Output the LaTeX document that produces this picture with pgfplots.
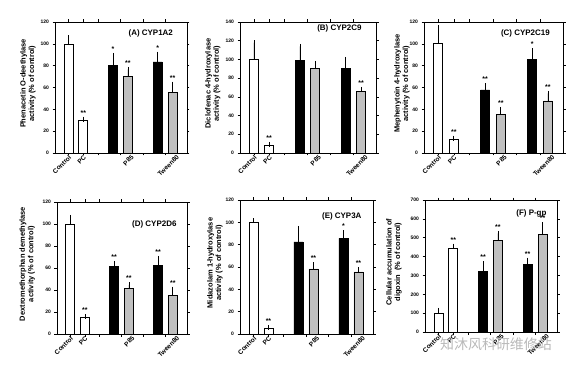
\documentclass[border=0pt]{standalone}
\usepackage{pgfplots}
\pgfplotsset{compat=1.18}
\usepackage{fontspec}
\setmainfont{Liberation Sans}
\newfontfamily\cjk{Noto Sans CJK SC}
\definecolor{bargray}{RGB}{192,192,192}
\pgfplotsset{
 panel/.style={
  scale only axis,
  axis line style={line width=0.8pt},
  xmin=0.1, xmax=8.97, ymin=0,
  tick align=outside,
  major tick length=2.5bp,
  tick style={line width=0.5pt, black},
  xtick={1,2,3,4.5,6,7.5},
  xticklabels={},
  extra x ticks={1,2,5.2,8.25},
  extra x tick labels={Control,PC,P85,Tween80},
  extra x tick style={major tick length=0pt, xticklabel style={rotate=45, anchor=north east, font=\bfseries\fontsize{6.5}{7}\selectfont, inner sep=1bp}},
  yticklabel style={font=\bfseries\fontsize{5}{6}\selectfont},
  /pgf/number format/assume math mode=true,
  ylabel style={font=\bfseries\fontsize{7.5}{8.5}\selectfont, align=center, anchor=center},
  error bars/y dir=plus, error bars/y explicit,
  error bars/error bar style={line width=0.6pt, black},
  error bars/error mark options={mark size=2.5bp, line width=0.6pt, black},
 },
 ylab/.style={ylabel style={at={(axis description cs:#1,0.53)}}},
 wb/.style={ybar, bar width=9bp, bar shift=0pt, draw=black, line width=0.6pt, fill=white},
 bb/.style={ybar, bar width=9bp, bar shift=0pt, draw=black, line width=0.6pt, fill=black},
 gb/.style={ybar, bar width=9bp, bar shift=0pt, draw=black, line width=0.6pt, fill=bargray},
}
\newcommand{\sig}[3]{\node[font=\bfseries\fontsize{7}{8}\selectfont, anchor=base, inner sep=0pt, yshift=4bp] at (axis cs:#1,#2) {#3};}
\newcommand{\ptitle}[3]{\node[anchor=east, font=\bfseries\fontsize{8}{9}\selectfont] at (rel axis cs:#1,#2) {#3};}
\begin{document}
\begin{tikzpicture}
\useasboundingbox (0,0) rectangle (567bp,368bp);
% (A)
\begin{axis}[panel, ylab=-0.205, at={(55bp,215bp)}, anchor=south west, width=132bp, height=131bp,
  ymax=120, ytick={0,20,...,120},
  ylabel={Phenacetin O-deethylase\\activity (\% of control)}]
\addplot[wb] coordinates {(1,100) +- (0,5.5) (2,30.4) +- (0,0.6)};
\addplot[bb] coordinates {(4,80.5) +- (0,9) (7,83.5) +- (0,7)};
\addplot[gb] coordinates {(5,70.5) +- (0,6) (8,55.5) +- (0,7.5)};
\sig{2}{31}{**}\sig{4}{89.6}{*}\sig{5}{76.6}{**}\sig{7}{90.6}{*}\sig{8}{63.2}{**}
\ptitle{0.92}{0.916}{(A) CYP1A2}
\end{axis}
% (B)
\begin{axis}[panel, ylab=-0.2, at={(240bp,215bp)}, anchor=south west, width=136bp, height=131bp,
  ymax=140, ytick={0,20,...,140},
  ylabel={Diclofenac 4-hydroxylase\\activity (\% of control)}]
\addplot[wb] coordinates {(1,100.4) +- (0,17.5) (2,8.2) +- (0,1)};
\addplot[bb] coordinates {(4,99.3) +- (0,14.7) (7,90.4) +- (0,9.6)};
\addplot[gb] coordinates {(5,90.4) +- (0,5.3) (8,65.6) +- (0,2.4)};
\sig{2}{9.2}{**}\sig{8}{68}{**}
\ptitle{0.92}{0.95}{(B) CYP2C9}
\end{axis}
% (C)
\begin{axis}[panel, ylab=-0.158, at={(424bp,215bp)}, anchor=south west, width=139bp, height=131bp,
  ymax=120, ytick={0,20,...,120},
  ylabel={Mephenytoin 4-hydroxylase\\activity (\% of control)}]
\addplot[wb] coordinates {(1,100.3) +- (0,14.7) (2,12.2) +- (0,1.5)};
\addplot[bb] coordinates {(4,57.8) +- (0,3.6) (7,85.7) +- (0,7.9)};
\addplot[gb] coordinates {(5,35.6) +- (0,4.4) (8,47.7) +- (0,7)};
\sig{2}{13.7}{**}\sig{4}{61.4}{**}\sig{5}{40}{**}\sig{7}{93.6}{*}\sig{8}{54.7}{**}
\ptitle{0.93}{0.916}{(C) CYP2C19}
\end{axis}
% (D)
\begin{axis}[panel, ylab=-0.23, at={(57bp,34bp)}, anchor=south west, width=130bp, height=132bp,
  ymax=120, ytick={0,20,...,120},
  ylabel={Dextromethorphan demethylase\\activity (\% of control)}]
\addplot[wb] coordinates {(1,100) +- (0,6) (2,15.2) +- (0,0.3)};
\addplot[bb] coordinates {(4,61.5) +- (0,2.8) (7,62.2) +- (0,6.5)};
\addplot[gb] coordinates {(5,41.4) +- (0,3.2) (8,35) +- (0,5.8)};
\sig{2}{15.5}{**}\sig{4}{64.3}{**}\sig{5}{44.6}{**}\sig{7}{68.7}{**}\sig{8}{40.8}{**}
\ptitle{0.946}{0.833}{(D) CYP2D6}
\end{axis}
% (E)
\begin{axis}[panel, ylab=-0.188, at={(240bp,34bp)}, anchor=south west, width=133bp, height=134bp,
  ymax=120, ytick={0,20,...,120},
  ylabel={Midazolam 1-hydroxylase\\activity (\% of control)}]
\addplot[wb] coordinates {(1,100.2) +- (0,1.2) (2,5.3) +- (0,0.3)};
\addplot[bb] coordinates {(4,82.5) +- (0,12.2) (7,85.6) +- (0,5.2)};
\addplot[gb] coordinates {(5,58.3) +- (0,3.6) (8,55.6) +- (0,1.8)};
\sig{2}{5.6}{**}\sig{5}{61.9}{**}\sig{7}{90.8}{*}\sig{8}{57.4}{**}
\ptitle{0.94}{0.88}{(E) CYP3A}
\end{axis}
% (F)
\begin{axis}[panel, ylab=-0.235, at={(425bp,36bp)}, anchor=south west, width=132bp, height=132bp,
  ymax=700, ytick={0,100,...,700},
  ylabel={Cellular accumulation of\\digoxin\ \ (\% of control)}]
\addplot[wb] coordinates {(1,100) +- (0,15) (2,445) +- (0,10)};
\addplot[bb] coordinates {(4,320) +- (0,42) (7,358) +- (0,23)};
\addplot[gb] coordinates {(5,487) +- (0,36) (8,518) +- (0,52)};
\sig{2}{455}{**}\sig{4}{362}{**}\sig{5}{523}{**}\sig{7}{381}{**}\sig{8}{570}{**}
\ptitle{0.947}{0.9}{(F) P-gp}
\end{axis}
\node[font=\cjk\fontsize{14}{14}\selectfont, text=gray!55, anchor=center] at (496bp,24bp) {知沐风科研维修站};
\end{tikzpicture}
\end{document}
